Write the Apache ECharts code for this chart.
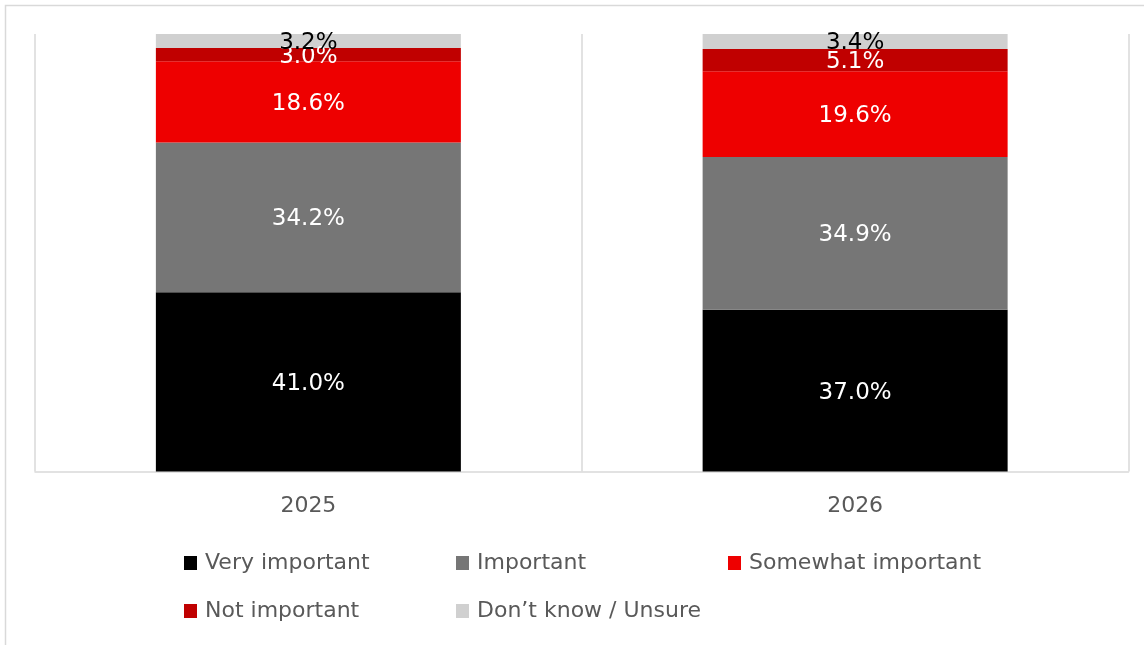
<!DOCTYPE html>
<html>
<head>
<meta charset="utf-8">
<script src="https://cdn.jsdelivr.net/npm/echarts@6/dist/echarts.min.js"></script>
<style>
  html, body { margin: 0; padding: 0; background: #ffffff; }
  #chart { width: 1144px; height: 645px; }
</style>
</head>
<body>
<div id="chart"></div>
<script>
// Survey years on the x axis
const years = ['2025', '2026'];

// Share of respondents per answer, in percent (stacked bottom to top)
const veryImportant = [41.0, 37.0];
const important = [34.2, 34.9];
const somewhatImportant = [18.6, 19.6];
const notImportant = [3.0, 5.1];
const dontKnow = [3.2, 3.4];

const seriesNames = ['Very important', 'Important', 'Somewhat important', 'Not important', 'Don\u2019t know / Unsure'];
const seriesColors = ['#000000', '#767676', '#EE0000', '#C00000', '#D0D0D0'];
const labelColors = ['#ffffff', '#ffffff', '#ffffff', '#ffffff', '#000000'];
const seriesValues = [veryImportant, important, somewhatImportant, notImportant, dontKnow];

const FONT = 'DejaVu Sans';
const chart = echarts.init(document.getElementById('chart'));

const series = seriesNames.map((name, i) => ({
  name: name,
  type: 'bar',
  stack: 'total',
  barWidth: 305,
  data: seriesValues[i],
  itemStyle: { color: seriesColors[i] },
  label: {
    show: true,
    position: 'inside',
    color: labelColors[i],
    fontFamily: FONT,
    fontSize: 23,
    offset: [0, 2],
    formatter: p => p.value.toFixed(1) + '%'
  }
}));

// Legend laid out as a grid of three columns: one legend box per entry
const legendCols = [184, 456, 728];
const legendRows = [552, 600];
const legends = seriesNames.map((name, i) => ({
  data: [name],
  left: legendCols[i % 3],
  top: legendRows[Math.floor(i / 3)],
  padding: 0,
  itemWidth: 13,
  itemHeight: 14,
  icon: 'rect',
  formatter: '{t|{name}}',
  textStyle: {
    color: '#595959',
    fontFamily: FONT,
    fontSize: 22,
    rich: {
      t: { padding: [0, 0, 0, 3], color: '#595959', fontFamily: FONT, fontSize: 22 }
    }
  }
}));

chart.setOption({
  animation: false,
  backgroundColor: '#ffffff',
  graphic: [{
    type: 'rect',
    z: -10,
    shape: { x: 5.5, y: 5.5, width: 1160, height: 660 },
    style: { fill: 'none', stroke: '#D9D9D9', lineWidth: 1.5 },
    silent: true
  }],
  grid: { left: 35, right: 15.5, top: 34, bottom: 173.5, containLabel: false },
  xAxis: {
    type: 'category',
    data: years,
    axisLine: { show: true, lineStyle: { color: '#D9D9D9', width: 1.5 } },
    axisTick: { show: false },
    splitLine: { show: true, lineStyle: { color: '#D9D9D9', width: 1.5 } },
    axisLabel: {
      color: '#595959',
      fontFamily: FONT,
      fontSize: 22,
      margin: 24
    }
  },
  yAxis: {
    type: 'value',
    min: 0,
    max: 100,
    show: false
  },
  legend: legends,
  series: series
});
</script>
</body>
</html>
